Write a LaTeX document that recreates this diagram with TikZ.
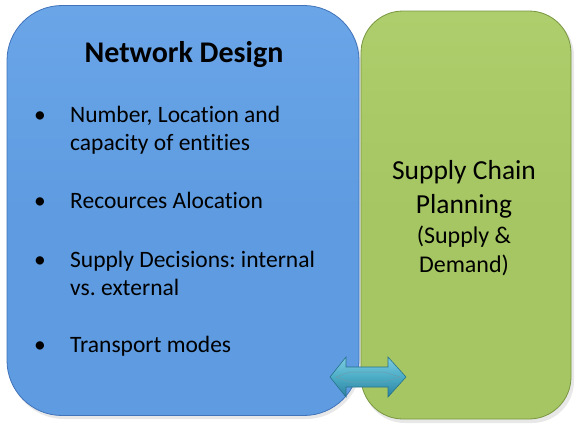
\documentclass[tikz,border=0pt]{standalone}
\usepackage{fontspec}
\setmainfont[Ligatures={NoCommon}]{Carlito}
\definecolor{bluefill}{RGB}{94,155,224}
\definecolor{bluetop}{RGB}{106,165,232}
\definecolor{blueedge}{RGB}{65,115,185}
\definecolor{greenfill}{RGB}{165,198,98}
\definecolor{greentop}{RGB}{174,205,108}
\definecolor{greenedge}{RGB}{120,150,65}
\definecolor{arrowlight}{RGB}{125,205,225}
\definecolor{arrowmid}{RGB}{75,172,198}
\definecolor{arrowdark}{RGB}{45,130,158}
\definecolor{arrowedge}{RGB}{40,115,140}
\frenchspacing
\tikzset{
  panel/.style={rounded corners=#1, inner sep=0pt, outer sep=0pt},
  bodytext/.style={font=\fontsize{23.5}{28}\selectfont, anchor=base west, inner sep=0pt},
  bullet/.style={font=\fontsize{23.5}{28}\selectfont, anchor=base, inner sep=0pt},
  greentext/.style={anchor=base, inner sep=0pt, align=center}
}
\begin{document}
\begin{tikzpicture}[x=1pt,y=-1pt]
\useasboundingbox (0,0) rectangle (579,432);
% shadows
\fill[black!20, opacity=0.45, rounded corners=55pt] (9,8) rectangle (361,419);
\fill[black!20, opacity=0.45, rounded corners=42pt] (363,14) rectangle (574,423);
% blue panel
\node[panel=55pt, draw=blueedge, line width=0.8pt, top color=bluetop, bottom color=bluefill, middle color=bluefill,
      minimum width=352pt, minimum height=410pt] (nd) at (183,210.5) {};
% green panel
\node[panel=42pt, draw=greenedge, line width=0.8pt, top color=greentop, bottom color=greenfill, middle color=greenfill,
      minimum width=210pt, minimum height=408pt] (scp) at (466,215) {};
% title
\node[anchor=base, inner sep=0pt, font=\fontsize{30}{36}\selectfont\bfseries] (title) at (184,62) {Network Design};
% bullets
\node[bullet] (b1) at (40,122) {•};
\node[bodytext] (t1a) at (70,122) {Number, Location and};
\node[bodytext] (t1b) at (70,150) {capacity of entities};
\node[bullet] (b2) at (40,208) {•};
\node[bodytext] (t2) at (70,208) {Recources Alocation};
\node[bullet] (b3) at (40,267) {•};
\node[bodytext] (t3a) at (70,267) {Supply Decisions: internal};
\node[bodytext] (t3b) at (70,295) {vs. external};
\node[bullet] (b4) at (40,352) {•};
\node[bodytext] (t4) at (70,352) {Transport modes};
% green text
\node[greentext, font=\fontsize{27.5}{33}\selectfont] (g1) at (464,179) {Supply Chain};
\node[greentext, font=\fontsize{27.5}{33}\selectfont] (g2) at (464,213) {Planning};
\node[greentext, font=\fontsize{24}{29}\selectfont] (g3) at (464,243) {(Supply \&};
\node[greentext, font=\fontsize{24}{29}\selectfont] (g4) at (464,272) {Demand)};
% double block arrow between the panels
\coordinate (arr) at (368,377);
\shade[top color=arrowlight, bottom color=arrowdark, middle color=arrowmid, draw=arrowedge, line width=0.6pt]
  (330,377) -- (346,357) -- (346,367) -- (388,367) -- (388,357) -- (406,377)
  -- (388,397) -- (388,387) -- (346,387) -- (346,397) -- cycle;
\draw[arrowedge!70, line width=0.5pt] (336,377) -- (350,372) -- (384,372) -- (400,377);
\draw[arrowedge!70, line width=0.5pt] (336,377) -- (350,382) -- (384,382) -- (400,377);
\end{tikzpicture}
\end{document}
